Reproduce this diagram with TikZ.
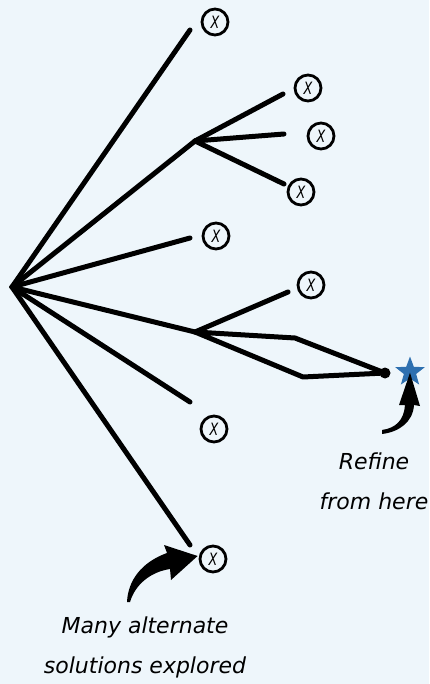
\documentclass[tikz,border=0pt]{standalone}
\usepackage{fontspec}
\setmainfont{DejaVu Sans}
\usetikzlibrary{arrows.meta,shapes.geometric}
\definecolor{bg}{RGB}{238,246,251}
\definecolor{starblue}{RGB}{46,112,176}
\newcommand{\leafx}{\scalebox{0.75}[1]{\itshape X}}
\begin{document}
\begin{tikzpicture}[x=1pt,y=-1pt,
  branch/.style={line width=5pt, line cap=round, line join=round},
  leaf/.style={circle, draw, line width=2.8pt, minimum size=26pt, inner sep=0pt, font=\fontsize{17}{17}\selectfont},
  lbl/.style={align=center, font=\fontsize{22}{40}\selectfont\itshape},
  callout/.style={fill=black}]
\fill[bg] (0,0) rectangle (429,684);
\useasboundingbox (0,0) rectangle (429,684);
% junctions and line ends
\coordinate (root) at (12,287);
\coordinate (A) at (195,141);
\coordinate (B) at (195,332);
\coordinate (e1) at (190,30);
\coordinate (e3) at (190,238);
\coordinate (e5) at (190,402);
\coordinate (e6) at (190,545);
\coordinate (a1) at (283,94);
\coordinate (a2) at (284,134);
\coordinate (a3) at (284,184);
\coordinate (b1) at (288,292);
\coordinate (p1) at (295,338);
\coordinate (p2) at (303,377);
% leaves
\node[leaf] (x1) at (215,22) {\leafx};
\node[leaf] (xa1) at (308,88) {\leafx};
\node[leaf] (xa2) at (321,136) {\leafx};
\node[leaf] (xa3) at (301,192) {\leafx};
\node[leaf] (x3) at (216,236) {\leafx};
\node[leaf] (xb1) at (311,285) {\leafx};
\node[leaf] (x5) at (214,429) {\leafx};
\node[leaf] (x6) at (213,559) {\leafx};
\node[circle, fill, minimum size=11pt, inner sep=0pt] (dot) at (385,373) {};
\node[star, star points=5, star point ratio=2.4, fill=starblue, minimum size=31pt, inner sep=0pt] (goal) at (410,372) {};
% branches
\draw[branch] (root) -- (e1);
\draw[branch] (root) -- (A);
\draw[branch] (root) -- (e3);
\draw[branch] (root) -- (B);
\draw[branch] (root) -- (e5);
\draw[branch] (root) -- (e6);
\draw[branch] (A) -- (a1);
\draw[branch] (A) -- (a2);
\draw[branch] (A) -- (a3);
\draw[branch] (B) -- (b1);
\draw[branch] (B) -- (p1) -- (dot.center) -- (p2) -- cycle;
% callouts (tapered curved arrows)
\coordinate (c1) at (127,602);
\coordinate (c2) at (382,434);
\fill[callout] (c1) .. controls (128,580) and (142,562) .. (167,553)
  -- (164,545) -- ([xshift=-1pt,yshift=3pt]x6.west) -- (171,580) -- (170,569)
  .. controls (150,572) and (135,585) .. (130,602) -- cycle;
\fill[callout] (c2) .. controls (399,432) and (413,422) .. (414,405)
  -- (420,406) -- ([yshift=6pt]goal.south) -- (399,405) -- (405,405)
  .. controls (404,420) and (396,428) .. (382,430) -- cycle;
% labels
\node[lbl] (t1) at (374,481) {Refine\\from here};
\node[lbl] (t2) at (145,647) {Many alternate\\solutions explored};
\end{tikzpicture}
\end{document}
